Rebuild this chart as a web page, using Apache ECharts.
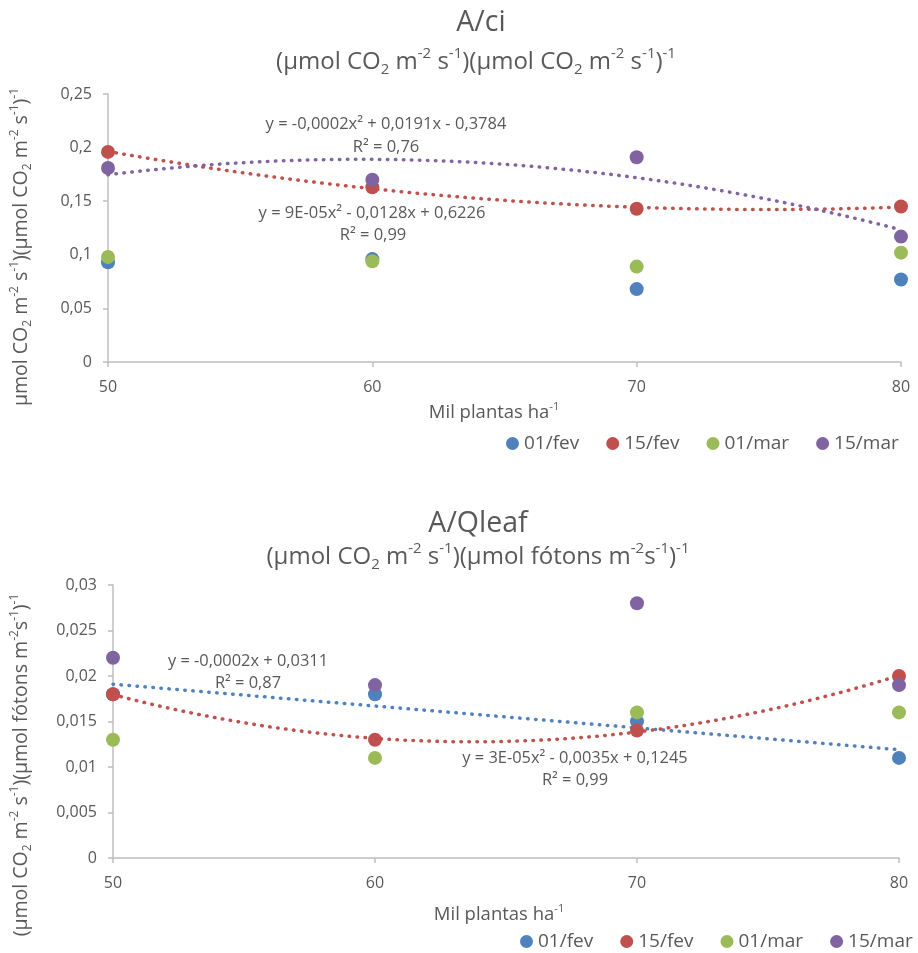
<!DOCTYPE html>
<html>
<head>
<meta charset="utf-8">
<script src="https://cdn.jsdelivr.net/npm/echarts@6/dist/echarts.min.js"></script>
<style>
html,body{margin:0;padding:0;background:#fff;}
#chart{width:918px;height:953px;}
</style>
</head>
<body>
<div id="chart"></div>
<script>
// ---------- DATA ----------
const xValues = [50, 60, 70, 80];
const seriesNames = ['01/fev', '15/fev', '01/mar', '15/mar'];
// A/ci
const aci_01fev = [0.093, 0.096, 0.068, 0.077];
const aci_15fev = [0.196, 0.163, 0.143, 0.145];
const aci_01mar = [0.098, 0.094, 0.089, 0.102];
const aci_15mar = [0.181, 0.170, 0.191, 0.117];
// A/Qleaf
const aq_01fev = [0.018, 0.018, 0.015, 0.011];
const aq_15fev = [0.018, 0.013, 0.014, 0.020];
const aq_01mar = [0.013, 0.011, 0.016, 0.016];
const aq_15mar = [0.022, 0.019, 0.028, 0.019];
// tick settings
const aciTicks = {min: 0, max: 0.25, interval: 0.05};
const aqTicks = {min: 0, max: 0.03, interval: 0.005};
const xTicks = {min: 50, max: 80, interval: 10};
// trendline equations (text as shown)
const eqAciPurple = ['y = -0,0002x² + 0,0191x - 0,3784', 'R² = 0,76'];
const eqAciRed = ['y = 9E-05x² - 0,0128x + 0,6226', 'R² = 0,99'];
const eqAqBlue = ['y = -0,0002x + 0,0311', 'R² = 0,87'];
const eqAqRed = ['y = 3E-05x² - 0,0035x + 0,1245', 'R² = 0,99'];

// ---------- HELPERS ----------
const COLORS = ['#4F81BD', '#C0504D', '#9BBB59', '#8064A2'];
const FONT = '"Open Sans", sans-serif';
const TXT = '#595959';
const AXIS = '#BFBFBF';

function polyfit(xs, ys, deg) {
  const n = deg + 1;
  const A = [], b = [];
  for (let i = 0; i < n; i++) {
    A.push([]);
    for (let j = 0; j < n; j++) {
      let s = 0; xs.forEach(x => s += Math.pow(x, i + j)); A[i].push(s);
    }
    let t = 0; xs.forEach((x, k) => t += Math.pow(x, i) * ys[k]); b.push(t);
  }
  for (let c = 0; c < n; c++) {
    let p = c;
    for (let r = c + 1; r < n; r++) if (Math.abs(A[r][c]) > Math.abs(A[p][c])) p = r;
    [A[c], A[p]] = [A[p], A[c]]; [b[c], b[p]] = [b[p], b[c]];
    for (let r = c + 1; r < n; r++) {
      const f = A[r][c] / A[c][c];
      for (let k = c; k < n; k++) A[r][k] -= f * A[c][k];
      b[r] -= f * b[c];
    }
  }
  const coef = new Array(n).fill(0);
  for (let r = n - 1; r >= 0; r--) {
    let s = b[r];
    for (let k = r + 1; k < n; k++) s -= A[r][k] * coef[k];
    coef[r] = s / A[r][r];
  }
  return coef;
}
// least-squares trendline (as in the original spreadsheet), evaluated along the x range
function trend(ys, deg) {
  const c = polyfit(xValues, ys, deg);
  const out = [];
  for (let x = xValues[0]; x <= xValues[xValues.length - 1] + 1e-9; x += 0.5) {
    let y = 0; c.forEach((ci, i) => y += ci * Math.pow(x, i));
    out.push([x, y]);
  }
  return out;
}
const pts = ys => xValues.map((x, i) => [x, ys[i]]);
const fmt = v => String(+v.toFixed(4)).replace('.', ',');

const RICH = (fs) => ({
  n: {fontSize: fs, fontFamily: FONT, fill: TXT, color: TXT, lineHeight: fs * 1.3},
  sup: {fontSize: Math.round(fs * 0.62), fontFamily: FONT, fill: TXT, color: TXT, verticalAlign: 'top', lineHeight: fs * 0.7},
  sub: {fontSize: Math.round(fs * 0.62), fontFamily: FONT, fill: TXT, color: TXT, verticalAlign: 'bottom', lineHeight: fs * 0.5}
});
function txt(x, y, text, fs, rot, rich) {
  const el = {
    type: 'text', x: x, y: y, rotation: rot || 0, silent: true, z: 100,
    style: {text: text, fontSize: fs, fontFamily: FONT, fill: TXT, align: 'center', verticalAlign: 'middle'}
  };
  if (rich) el.style.rich = RICH(fs);
  return el;
}

const subAci = '{n|(μmol CO}{sub|2}{n| m}{sup|-2}{n| s}{sup|-1}{n|)(μmol CO}{sub|2}{n| m}{sup|-2}{n| s}{sup|-1}{n|)}{sup|-1}';
const yAci = '{n|μmol CO}{sub|2}{n| m}{sup|-2}{n| s}{sup|-1}{n|)(μmol CO}{sub|2}{n| m}{sup|-2}{n| s}{sup|-1}{n|)}{sup|-1}';
const subAq = '{n|(μmol CO}{sub|2}{n| m}{sup|-2}{n| s}{sup|-1}{n|)(μmol fótons m}{sup|-2}{n|s}{sup|-1}{n|)}{sup|-1}';
const xName = '{n|Mil plantas ha}{sup|-1}';

function xAxisCfg(gi) {
  return {
    type: 'value', gridIndex: gi, min: xTicks.min, max: xTicks.max, interval: xTicks.interval,
    splitLine: {show: false},
    axisLine: {lineStyle: {color: AXIS, width: 1.5}},
    axisTick: {show: true, length: 5, lineStyle: {color: AXIS, width: 1.5}},
    axisLabel: {color: TXT, fontSize: 16, fontFamily: FONT, margin: 17}
  };
}
function yAxisCfg(gi, t) {
  return {
    type: 'value', gridIndex: gi, min: t.min, max: t.max, interval: t.interval,
    splitLine: {show: false},
    axisLine: {show: true, lineStyle: {color: AXIS, width: 1.5}},
    axisTick: {show: true, length: 5, lineStyle: {color: AXIS, width: 1.5}},
    axisLabel: {color: TXT, fontSize: 16, fontFamily: FONT, margin: 16, formatter: fmt}
  };
}
function scatter(name, data, gi, ci) {
  return {
    type: 'scatter', name: name, xAxisIndex: gi, yAxisIndex: gi, data: pts(data),
    symbol: 'circle', symbolSize: 14, itemStyle: {color: COLORS[ci], opacity: 1}, z: 5, silent: true
  };
}
function trendLine(data, deg, gi, ci) {
  return {
    type: 'line', name: 'trend', xAxisIndex: gi, yAxisIndex: gi, data: trend(data, deg),
    showSymbol: false, symbol: 'none', smooth: false, silent: true, z: 3,
    lineStyle: {color: COLORS[ci], width: 3.5, type: [0.5, 7.5], cap: 'round'}
  };
}
function legendCfg(left, top) {
  return {
    data: seriesNames, left: left, top: top, orient: 'horizontal', selectedMode: false,
    padding: 0, icon: 'circle', itemWidth: 13, itemHeight: 13, itemGap: 27,
    textStyle: {color: TXT, fontSize: 19, fontFamily: FONT}
  };
}

const option = {
  backgroundColor: '#fff',
  animation: false,
  grid: [
    {left: 108, top: 94, width: 793, height: 268},
    {left: 113, top: 585, width: 786, height: 273}
  ],
  xAxis: [xAxisCfg(0), xAxisCfg(1)],
  yAxis: [yAxisCfg(0, aciTicks), yAxisCfg(1, aqTicks)],
  legend: [legendCfg(506, 434), legendCfg(520, 932)],
  series: [
    trendLine(aci_15fev, 2, 0, 1),
    trendLine(aci_15mar, 2, 0, 3),
    scatter('01/fev', aci_01fev, 0, 0),
    scatter('15/fev', aci_15fev, 0, 1),
    scatter('01/mar', aci_01mar, 0, 2),
    scatter('15/mar', aci_15mar, 0, 3),
    trendLine(aq_01fev, 1, 1, 0),
    trendLine(aq_15fev, 2, 1, 1),
    scatter('01/fev', aq_01fev, 1, 0),
    scatter('15/fev', aq_15fev, 1, 1),
    scatter('01/mar', aq_01mar, 1, 2),
    scatter('15/mar', aq_15mar, 1, 3)
  ],
  graphic: [
    txt(481, 23, 'A/ci', 28.5),
    txt(476, 62, subAci, 24, 0, true),
    txt(21, 247, yAci, 19.5, Math.PI / 2, true),
    txt(494, 413, xName, 18.5, 0, true),
    txt(386, 124, eqAciPurple[0], 16.5),
    txt(386, 147, eqAciPurple[1], 16.5),
    txt(372, 213, eqAciRed[0], 16.5),
    txt(373, 235, eqAciRed[1], 16.5),
    txt(478, 524, 'A/Qleaf', 28.5),
    txt(478, 557, subAq, 24, 0, true),
    txt(21, 765, subAq, 19.5, Math.PI / 2, true),
    txt(499, 915, xName, 18.5, 0, true),
    txt(248, 661, eqAqBlue[0], 16.4),
    txt(248, 683, eqAqBlue[1], 16.4),
    txt(575, 758, eqAqRed[0], 16.4),
    txt(575, 780, eqAqRed[1], 16.4)
  ]
};
const chart = echarts.init(document.getElementById('chart'), null, {renderer: 'canvas'});
chart.setOption(option);
</script>
</body>
</html>
